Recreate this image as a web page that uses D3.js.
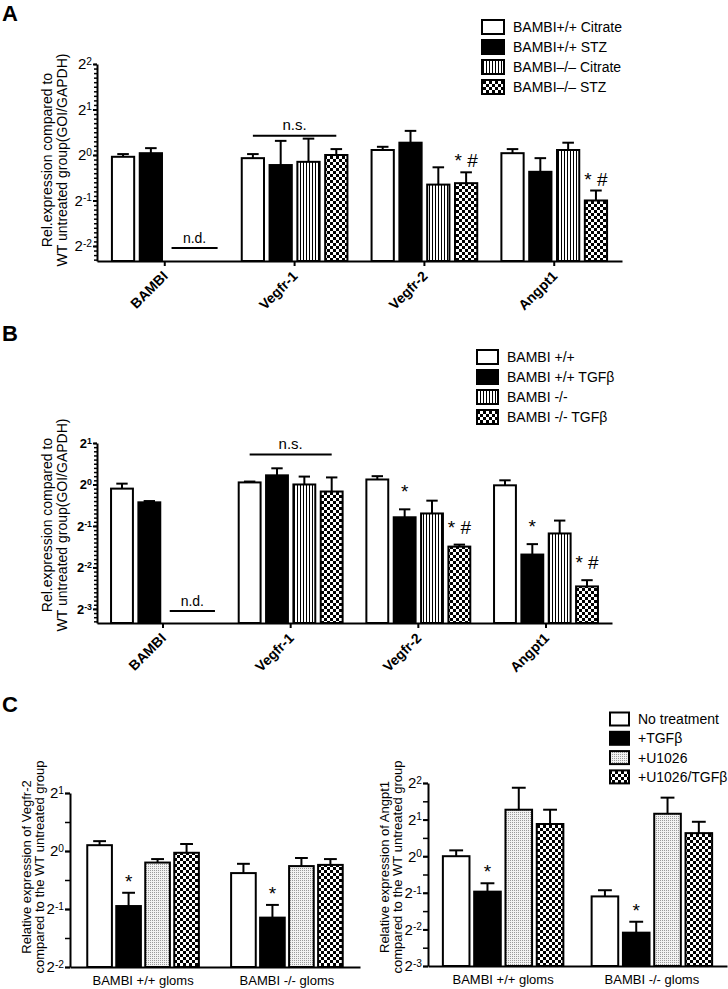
<!DOCTYPE html>
<html>
<head>
<meta charset="utf-8">
<script src="https://cdn.jsdelivr.net/npm/d3@7"></script>
<style>
  body { margin: 0; background: #fff; }
  svg { font-family: "Liberation Sans", Arial, sans-serif; }
</style>
</head>
<body>
<div id="chart"></div>
<script>
// ---- data (fold change vs WT untreated) ----
var genes = ["BAMBI", "Vegfr-1", "Vegfr-2", "Angpt1"];

// panel A: diabetic mice
var seriesA = ["BAMBI+/+ Citrate", "BAMBI+/+ STZ", "BAMBI\u2013/\u2013 Citrate", "BAMBI\u2013/\u2013 STZ"];
var meanA = [[0.973, 1.028, null, null], [0.953, 0.858, 0.901, 1.0], [1.079, 1.206, 0.637, 0.651], [1.028, 0.774, 1.079, 0.5]];
var upperA = [[1.014, 1.110, null, null], [1.014, 1.240, 1.283, 1.094], [1.133, 1.444, 0.829, 0.768], [1.094, 0.953, 1.206, 0.582]];
var starA = [["", "", "", ""], ["", "", "", ""], ["", "", "", "* #"], ["", "", "", "* #"]];
var ticksA = [-2, -1, 0, 1, 2];
var nsA = 1.34;

// panel B: TGFbeta treated cells
var seriesB = ["BAMBI +/+", "BAMBI +/+ TGF\u03b2", "BAMBI -/-", "BAMBI -/- TGF\u03b2"];
var meanB = [[0.933, 0.742, null, null], [1.035, 1.165, 1.0, 0.889], [1.087, 0.578, 0.616, 0.354], [0.986, 0.310, 0.441, 0.182]];
var upperB = [[1.014, 0.758, null, null], [1.050, 1.310, 1.141, 1.125], [1.149, 0.660, 0.763, 0.366], [1.072, 0.369, 0.547, 0.202]];
var starB = [["", "", "", ""], ["", "", "", ""], ["", "*", "", "* #"], ["", "*", "", "* #"]];
var ticksB = [-3, -2, -1, 0, 1];
var nsB = 1.65;

// panel C: glomeruli with U1026
var groupsC = ["BAMBI +/+ gloms", "BAMBI -/- gloms"];
var seriesC = ["No treatment", "+TGF\u03b2", "+U1026", "+U1026/TGF\u03b2"];
var meanVegfr2 = [[1.072, 0.518, 0.871, 0.979], [0.768, 0.451, 0.835, 0.847]];
var upperVegfr2 = [[1.125, 0.607, 0.908, 1.087], [0.858, 0.525, 0.920, 0.908]];
var meanAngpt1 = [[1.0, 0.511, 2.412, 1.840], [0.467, 0.235, 2.234, 1.548]];
var upperAngpt1 = [[1.117, 0.599, 3.656, 2.412], [0.525, 0.289, 3.031, 1.919]];
var starC = [["", "*", "", ""], ["", "*", "", ""]];
var ticksC1 = [-2, -1, 0, 1];
var ticksC2 = [-3, -2, -1, 0, 1, 2];

var fillsAB = ["#fff", "#000", "url(#stripes)", "url(#checks)"];
var fillsC = ["#fff", "#000", "url(#dots)", "url(#checks)"];

var svg = d3.select("#chart").append("svg")
    .attr("width", 728)
    .attr("height", 989);

// fill patterns
var defs = svg.append("defs");
var p = defs.append("pattern").attr("id", "stripes").attr("patternUnits", "userSpaceOnUse")
    .attr("width", 3).attr("height", 3);
p.append("rect").attr("width", 3).attr("height", 3).attr("fill", "#fff");
p.append("rect").attr("width", 1).attr("height", 3).attr("fill", "#000");

p = defs.append("pattern").attr("id", "checks").attr("patternUnits", "userSpaceOnUse")
    .attr("width", 6).attr("height", 6);
p.append("rect").attr("width", 6).attr("height", 6).attr("fill", "#fff");
p.append("rect").attr("width", 3).attr("height", 3).attr("fill", "#000");
p.append("rect").attr("x", 3).attr("y", 3).attr("width", 3).attr("height", 3).attr("fill", "#000");

p = defs.append("pattern").attr("id", "dots").attr("patternUnits", "userSpaceOnUse")
    .attr("width", 2).attr("height", 2);
p.append("rect").attr("width", 2).attr("height", 2).attr("fill", "#f2f2f2");
p.append("rect").attr("width", 1).attr("height", 1).attr("fill", "#9a9a9a");

function panel(o) {
  var y = d3.scaleLog().base(2).domain(o.domain).range(o.yRange);
  var x0 = d3.scaleBand().domain(o.groups).range(o.xRange)
      .paddingInner(o.padIn).paddingOuter(o.padOut);
  var x1 = d3.scaleBand().domain(d3.range(4)).range([0, x0.bandwidth()]).paddingInner(o.barPad);
  var base = o.yRange[0];
  var left = o.xRange[0];

  var rows = [];
  o.groups.forEach(function(g, i) {
    o.mean[i].forEach(function(m, j) {
      if (m == null) return;
      rows.push({ g: g, j: j, m: m, u: o.upper[i][j], star: o.star[i][j] });
    });
  });

  var cx = function(d) { return x0(d.g) + x1(d.j) + x1.bandwidth() / 2; };

  // error bars (upper only)
  var cap = x1.bandwidth() * 0.26;
  var eb = svg.append("g").attr("stroke", "#000").attr("stroke-width", 2);
  eb.selectAll(".stem").data(rows).enter().append("line")
    .attr("x1", cx).attr("x2", cx)
    .attr("y1", function(d) { return y(d.m); })
    .attr("y2", function(d) { return y(d.u); });
  eb.selectAll(".cap").data(rows).enter().append("line")
    .attr("x1", function(d) { return cx(d) - cap; })
    .attr("x2", function(d) { return cx(d) + cap; })
    .attr("y1", function(d) { return y(d.u); })
    .attr("y2", function(d) { return y(d.u); });

  // bars
  svg.append("g").selectAll("rect").data(rows).enter().append("rect")
    .attr("x", function(d) { return x0(d.g) + x1(d.j); })
    .attr("y", function(d) { return y(d.m); })
    .attr("width", x1.bandwidth())
    .attr("height", function(d) { return base - y(d.m); })
    .attr("fill", function(d) { return o.fills[d.j]; })
    .attr("stroke", "#000")
    .attr("stroke-width", 2);

  // significance marks
  svg.append("g").selectAll("text").data(rows.filter(function(d) { return d.star; })).enter().append("text")
    .attr("x", cx)
    .attr("y", function(d) { return y(d.u) - o.starOff; })
    .attr("text-anchor", "middle")
    .attr("font-size", 19)
    .text(function(d) { return d.star; });

  // y axis, minor ticks first
  var minor = [];
  var lo = Math.log2(o.domain[0]), hi = Math.log2(o.domain[1]);
  for (var k = Math.ceil(lo / o.minorStep); k * o.minorStep <= hi + 1e-9; k++) {
    minor.push(Math.pow(2, k * o.minorStep));
  }
  var ym = svg.append("g").attr("transform", "translate(" + left + ",0)")
    .call(d3.axisLeft(y).tickValues(minor).tickSize(o.minorSize).tickFormat(""));
  ym.select(".domain").remove();
  ym.selectAll("line").attr("stroke-width", 1.5);

  var ya = svg.append("g").attr("transform", "translate(" + left + ",0)")
    .call(d3.axisLeft(y)
      .tickValues(o.ticks.map(function(t) { return Math.pow(2, t); }))
      .tickSize(o.majorSize).tickSizeOuter(0).tickPadding(1));
  ya.select(".domain").attr("stroke-width", 2);
  ya.selectAll("line").attr("stroke-width", 2);
  ya.selectAll(".tick text")
    .attr("font-size", o.tickSize)
    .attr("font-weight", o.tickBold ? "bold" : "normal")
    .attr("fill", "#000")
    .text(null)
    .each(function(d) {
      var t = d3.select(this);
      t.append("tspan").text("2");
      t.append("tspan").attr("dy", "-0.45em").attr("font-size", o.tickSize * 0.68)
        .text(Math.round(Math.log2(d)));
    });

  // x axis
  var xa = svg.append("g").attr("transform", "translate(0," + base + ")")
    .call(d3.axisBottom(x0).tickSize(o.xTicks ? 5 : 0).tickSizeOuter(0).tickFormat(""));
  xa.select(".domain").attr("stroke-width", 2);
  xa.selectAll("line").attr("stroke-width", 2);

  if (o.rotate) {
    o.groups.forEach(function(g) {
      var tx = x0(g) + x0.bandwidth() / 2 + 4;
      svg.append("text")
        .attr("transform", "translate(" + tx + "," + (base + 16) + ") rotate(-45)")
        .attr("text-anchor", "end")
        .attr("font-weight", "bold")
        .attr("font-size", 14)
        .text(g);
    });
  } else {
    o.groups.forEach(function(g) {
      svg.append("text")
        .attr("x", x0(g) + x0.bandwidth() / 2)
        .attr("y", base + 18)
        .attr("text-anchor", "middle")
        .attr("font-size", 13)
        .text(g);
    });
  }

  // y label
  var yl = svg.append("text")
    .attr("transform", "translate(" + o.labelX + "," + o.labelY + ") rotate(-90)")
    .attr("text-anchor", "middle")
    .attr("font-size", o.labelSize);
  o.label.forEach(function(l, i) {
    yl.append("tspan").attr("x", 0).attr("y", i * o.labelGap).text(l);
  });

  // n.d. and n.s. for the gene panels
  if (o.ns) {
    var g0 = o.groups[0];
    var ndY = y(Math.pow(2, o.ticks[0])) + 2;
    svg.append("line")
      .attr("x1", x0(g0) + x1(2) + 4).attr("x2", x0(g0) + x1(3) + x1.bandwidth())
      .attr("y1", ndY).attr("y2", ndY)
      .attr("stroke", "#000").attr("stroke-width", 2);
    svg.append("text")
      .attr("x", x0(g0) + (x1(2) + 4 + x1(3) + x1.bandwidth()) / 2)
      .attr("y", ndY - 5)
      .attr("text-anchor", "middle").attr("font-size", 14)
      .text("n.d.");

    var g1 = o.groups[1];
    var nsY = y(o.ns);
    svg.append("line")
      .attr("x1", x0(g1) + x1(0) + x1.bandwidth() / 2)
      .attr("x2", x0(g1) + x1(3) + x1.bandwidth() / 2)
      .attr("y1", nsY).attr("y2", nsY)
      .attr("stroke", "#000").attr("stroke-width", 2);
    svg.append("text")
      .attr("x", x0(g1) + x0.bandwidth() / 2)
      .attr("y", nsY - 6)
      .attr("text-anchor", "middle").attr("font-size", 15)
      .text("n.s.");
  }

  // legend
  if (o.legend) {
    var lg = svg.append("g");
    o.legend.forEach(function(name, i) {
      var ry = o.legY + i * o.legGap;
      lg.append("rect")
        .attr("x", o.legX).attr("y", ry - o.boxH / 2)
        .attr("width", o.boxW).attr("height", o.boxH)
        .attr("fill", o.fills[i]).attr("stroke", "#000").attr("stroke-width", 2);
      lg.append("text")
        .attr("x", o.legX + o.boxW + 9).attr("y", ry + 5)
        .attr("font-size", 14)
        .text(name);
    });
  }
}

var yLabAB = ["Rel.expression compared to", "WT untreated group(GOI/GAPDH)"];

panel({
  groups: genes, mean: meanA, upper: upperA, star: starA, fills: fillsAB,
  domain: [Math.pow(2, -2.33), 4], yRange: [261, 64], xRange: [97, 622],
  padIn: 0.186, padOut: 0.115, barPad: 0.2,
  ticks: ticksA, minorStep: 0.1, minorSize: 3, majorSize: 4, tickSize: 15, tickBold: false,
  xTicks: true, rotate: true, starOff: 5, ns: nsA,
  label: yLabAB, labelX: 52, labelY: 160, labelSize: 14, labelGap: 15,
  legend: seriesA, legX: 482, legY: 27, legGap: 20, boxW: 22, boxH: 14
});

panel({
  groups: genes, mean: meanB, upper: upperB, star: starB, fills: fillsAB,
  domain: [Math.pow(2, -3.34), 2], yRange: [623, 443], xRange: [97, 612],
  padIn: 0.186, padOut: 0.11, barPad: 0.2,
  ticks: ticksB, minorStep: 0.1, minorSize: 3, majorSize: 4, tickSize: 13, tickBold: true,
  xTicks: true, rotate: true, starOff: 11, ns: nsB,
  label: yLabAB, labelX: 52, labelY: 525, labelSize: 14, labelGap: 15,
  legend: seriesB, legX: 477, legY: 357, legGap: 20, boxW: 21, boxH: 14
});

panel({
  groups: groupsC, mean: meanVegfr2, upper: upperVegfr2, star: starC, fills: fillsC,
  domain: [0.25, 2], yRange: [967, 793], xRange: [70, 360],
  padIn: 0.224, padOut: 0.12, barPad: 0.15,
  ticks: ticksC1, minorStep: 0.5, minorSize: 5, majorSize: 5, tickSize: 15, tickBold: false,
  xTicks: false, rotate: false, starOff: 5,
  label: ["Relative expression of Vegfr-2", "compared to the WT untreated group"],
  labelX: 31, labelY: 867, labelSize: 13, labelGap: 13
});

panel({
  groups: groupsC, mean: meanAngpt1, upper: upperAngpt1, star: starC, fills: fillsC,
  domain: [0.125, 4], yRange: [966, 783], xRange: [428, 727],
  padIn: 0.19, padOut: 0.1, barPad: 0.15,
  ticks: ticksC2, minorStep: 0.5, minorSize: 5, majorSize: 5, tickSize: 15, tickBold: false,
  xTicks: false, rotate: false, starOff: 5,
  label: ["Relative expression of Angpt1", "compared to the WT untreated group"],
  labelX: 389, labelY: 867, labelSize: 13, labelGap: 13,
  legend: seriesC, legX: 610, legY: 719, legGap: 19.3, boxW: 19, boxH: 13
});

// panel letters
[["A", 21], ["B", 341], ["C", 712]].forEach(function(d) {
  svg.append("text").attr("x", 2).attr("y", d[1])
    .attr("font-size", 22).attr("font-weight", "bold").text(d[0]);
});
</script>
</body>
</html>
